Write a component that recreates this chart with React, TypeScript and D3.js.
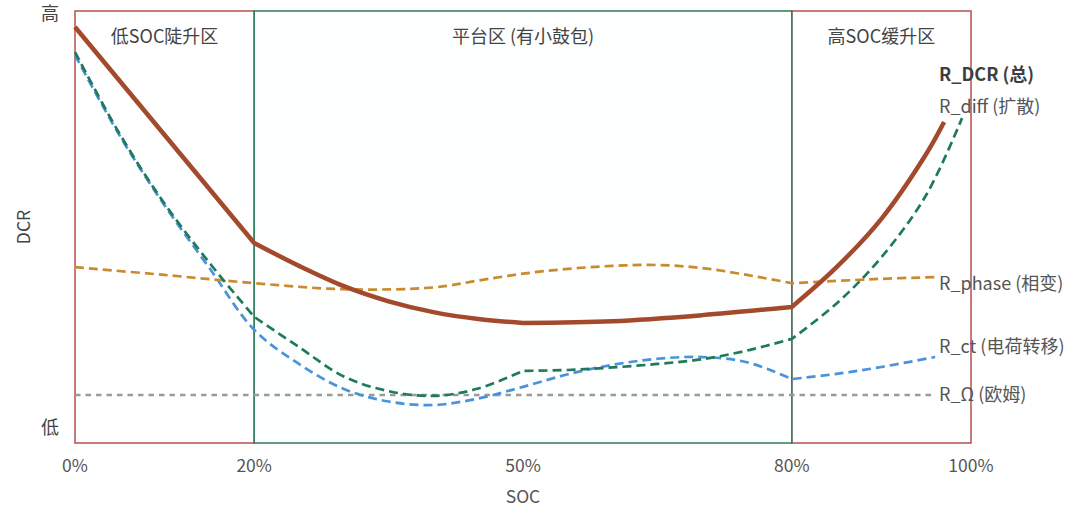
import React from 'react'
import * as d3 from 'd3'

// SOC (%) vs relative DCR (0 = 低, 100 = 高)
const socTicks = [0, 20, 50, 80, 100]
const regionBounds = [0, 20, 80, 100]
const regionLabels = ['低SOC陡升区', '平台区 (有小鼓包)', '高SOC缓升区']

const dcrPts: [number, number][] = [
  [0, 96.3], [20, 46.3], [25, 41.0], [30, 36.3], [35, 32.8], [40, 30.3], [45, 28.7], [50, 27.8],
  [60, 28.2], [70, 29.6], [80, 31.5], [85, 40.7], [90, 51.9], [95, 66.9], [97, 74.3],
]
const diffPts: [number, number][] = [
  [0, 90.5], [5, 71.5], [10, 55.4], [15, 41.7], [20, 29.2], [25, 22.2], [30, 15.4], [35, 12.0],
  [40, 10.9], [45, 12.6], [50, 16.7], [55, 16.9], [60, 17.5], [65, 18.3], [70, 19.4], [75, 21.4],
  [80, 24.1], [85, 32.3], [90, 43.0], [95, 57.4], [99, 75.2],
]
const ctPts: [number, number][] = [
  [0, 89.8], [5, 71.1], [10, 55.0], [15, 40.5], [20, 26.2], [25, 18.3], [30, 12.5], [35, 9.6],
  [40, 8.8], [45, 10.3], [50, 13.0], [55, 15.9], [60, 18.1], [65, 19.5], [70, 19.9], [75, 18.7],
  [80, 14.8], [85, 16.0], [90, 17.6], [96, 19.9],
]
const phasePts: [number, number][] = [
  [0, 40.7], [10, 38.9], [20, 37.0], [30, 35.6], [40, 36.0], [45, 37.6], [50, 39.2], [55, 40.3],
  [60, 41.0], [65, 41.2], [70, 40.5], [75, 38.9], [80, 37.0], [90, 38.0], [96, 38.4],
]
const ohmPts: [number, number][] = [[0, 11.1], [96, 11.1]]

const series = [
  { key: 'dcr', label: 'R_DCR (总)', pts: dcrPts, breaks: [20, 50, 80], color: '#A34A2C', width: 4.5, dash: '', labelY: 85.2, bold: true },
  { key: 'diff', label: 'R_diff (扩散)', pts: diffPts, breaks: [20, 50, 80], color: '#1F7A5A', width: 2.7, dash: '9 5', labelY: 77.8, bold: false },
  { key: 'phase', label: 'R_phase (相变)', pts: phasePts, breaks: [80], color: '#CC8A2E', width: 2.7, dash: '9 5', labelY: 36.8, bold: false },
  { key: 'ct', label: 'R_ct (电荷转移)', pts: ctPts, breaks: [80], color: '#4A93DB', width: 2.7, dash: '9 5', labelY: 22.2, bold: false },
  { key: 'ohm', label: 'R_Ω (欧姆)', pts: ohmPts, breaks: [], color: '#9A9A9A', width: 2.4, dash: '5.5 5', labelY: 11.1, bold: false },
]

const W = 1080
const H = 517
const font = '"Noto Sans CJK SC", "Noto Sans", sans-serif'

export default function App() {
  const x = d3.scaleLinear().domain([0, 100]).range([75, 971])
  const y = d3.scaleLinear().domain([0, 100]).range([443, 11])
  const line = d3.line<[number, number]>().x(d => x(d[0])).y(d => y(d[1])).curve(d3.curveCatmullRom.alpha(0.5))

  // split at kinks so each piece is smooth, then join into one path
  const pathFor = (pts: [number, number][], breaks: number[]) => {
    const segs: [number, number][][] = []
    let cur: [number, number][] = []
    pts.forEach(p => {
      cur.push(p)
      if (breaks.includes(p[0])) {
        segs.push(cur)
        cur = [p]
      }
    })
    if (cur.length > 1) segs.push(cur)
    return segs.map((s, i) => {
      const d = line(s) || ''
      return i === 0 ? d : 'L' + d.slice(1)
    }).join('')
  }

  const top = y(100)
  const bottom = y(0)

  return (
    <svg width={W} height={H} style={{ position: 'absolute', left: 0, top: 0, background: '#fff' }} fontFamily={font}>
      {/* regions */}
      <rect x={x(0)} y={top} width={x(20) - x(0)} height={bottom - top} fill="#fff" stroke="#B5514F" strokeWidth={1.5} />
      <rect x={x(80)} y={top} width={x(100) - x(80)} height={bottom - top} fill="#fff" stroke="#B5514F" strokeWidth={1.5} />
      <rect x={x(20)} y={top} width={x(80) - x(20)} height={bottom - top} fill="#FDFEFE" stroke="#2C7A5E" strokeWidth={1.5} />

      {regionLabels.map((t, i) => (
        <text key={t} x={(x(regionBounds[i]) + x(regionBounds[i + 1])) / 2} y={37} dy="0.35em" textAnchor="middle" fontSize={18} fill="#444">{t}</text>
      ))}

      {/* series */}
      {series.slice().reverse().map(s => (
        <path key={s.key} d={pathFor(s.pts, s.breaks)} fill="none" stroke={s.color} strokeWidth={s.width}
          strokeDasharray={s.dash || undefined} strokeLinejoin="round" />
      ))}

      {/* series labels */}
      {series.map(s => (
        <text key={s.key + 'l'} x={939} y={y(s.labelY)} dy="0.35em" fontSize={18} fill={s.bold ? '#3f3f3f' : '#555'}
          fontWeight={s.bold ? 'bold' : 'normal'}>{s.label}</text>
      ))}

      {/* axes text */}
      <text x={50} y={14} dy="0.35em" textAnchor="middle" fontSize={18} fill="#444">高</text>
      <text x={50} y={428} dy="0.35em" textAnchor="middle" fontSize={18} fill="#444">低</text>
      <text transform={`translate(24,${(top + bottom) / 2}) rotate(-90)`} textAnchor="middle" dy="0.35em" fontSize={17.5} fill="#444">DCR</text>
      {socTicks.map(t => (
        <text key={t} x={x(t)} y={466} dy="0.35em" textAnchor="middle" fontSize={17.5} fill="#555">{t}%</text>
      ))}
      <text x={x(50)} y={497} dy="0.35em" textAnchor="middle" fontSize={17.5} fill="#555">SOC</text>
    </svg>
  )
}
